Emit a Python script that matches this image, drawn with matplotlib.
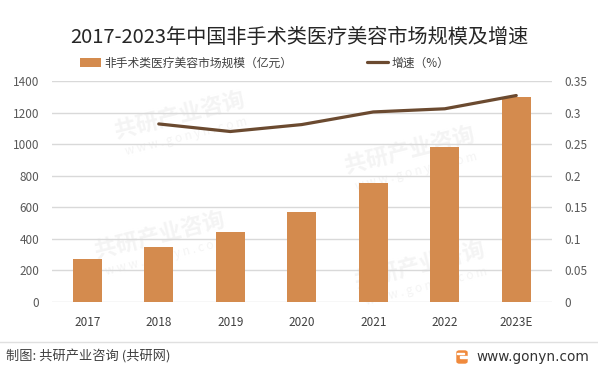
import matplotlib
matplotlib.use("Agg")
import matplotlib.pyplot as plt
from matplotlib.lines import Line2D
from matplotlib.patches import FancyBboxPatch, Rectangle

plt.rcParams["font.family"] = ["Noto Sans CJK SC", "DejaVu Sans"]

# data
years = ["2017", "2018", "2019", "2020", "2021", "2022", "2023E"]
market_size = [275, 350, 446, 573, 751, 981, 1300]
growth_years = ["2018", "2019", "2020", "2021", "2022", "2023E"]
growth_rate = [0.282, 0.270, 0.281, 0.301, 0.306, 0.327]

left_ticks = [0, 200, 400, 600, 800, 1000, 1200, 1400]
right_ticks = [0, 0.05, 0.1, 0.15, 0.2, 0.25, 0.3, 0.35]
right_labels = ["0", "0.05", "0.1", "0.15", "0.2", "0.25", "0.3", "0.35"]

bar_color = "#D48B4E"
line_color = "#6B4A30"
grid_color = "#D9D9D9"
tick_color = "#595959"

W, H = 598, 372
fig = plt.figure(figsize=(W / 100, H / 100), dpi=100)

# faint watermarks, behind everything
wm_spots = [(180, 115), (410, 150), (160, 235), (420, 265)]
for (px, py) in wm_spots:
    fig.text(px / W, 1 - py / H, "共研产业咨询", fontsize=16, fontweight="bold",
             color="#F4F4F4", rotation=14, ha="center", va="center", zorder=-2)
    fig.text(px / W + 0.01, 1 - (py + 22) / H, "w w w . g o n y n . c o m", fontsize=8.5,
             color="#F4F4F4", rotation=14, ha="center", va="center", zorder=-2)

ax = fig.add_axes([51.5 / W, 1 - 302 / H, 500.5 / W, 221 / H])
ax.patch.set_alpha(0)
x = list(range(len(years)))
bars = ax.bar(x, market_size, width=0.4, color=bar_color, zorder=3,
              label="非手术类医疗美容市场规模（亿元）")
ax.set_xlim(-0.5, len(years) - 0.5)
ax.set_ylim(0, 1400)
ax.set_yticks(left_ticks)
ax.set_xticks(x)
ax.set_xticklabels(years)
ax.yaxis.grid(True, color=grid_color, linewidth=1, zorder=0)
ax.set_axisbelow(True)
for s in ax.spines.values():
    s.set_visible(False)
ax.tick_params(axis="y", length=0, pad=9, labelsize=8.5, labelcolor=tick_color)
ax.tick_params(axis="x", length=0, pad=10, labelsize=8.5, labelcolor="#404040")

ax2 = ax.twinx()
gx = [years.index(y) for y in growth_years]
ln, = ax2.plot(gx, growth_rate, color=line_color, linewidth=2.3, zorder=4,
               solid_capstyle="round", label="增速（%）")
ax2.set_ylim(0, 0.35)
ax2.set_yticks(right_ticks)
ax2.set_yticklabels(right_labels)
for s in ax2.spines.values():
    s.set_visible(False)
ax2.tick_params(axis="y", length=0, pad=9, labelsize=8.5, labelcolor=tick_color)

fig.text(0.5, 1 - 37 / H, "2017-2023年中国非手术类医疗美容市场规模及增速",
         fontsize=14.5, color="#262626", ha="center", va="center")

fig.legend([bars, ln], [bars.get_label(), ln.get_label()], loc="center left",
           bbox_to_anchor=(74 / W, 1 - 63 / H), ncol=2, frameon=False,
           fontsize=8.5, handlelength=1.8, handletextpad=0.3, columnspacing=6.3,
           labelcolor="#404040", borderpad=0)

# footer
fig.add_artist(Line2D([0, 1], [1 - 341.5 / H, 1 - 341.5 / H], color="#E0E0E0", linewidth=1))
fig.text(6 / W, 1 - 357 / H, "制图: 共研产业咨询 (共研网)", fontsize=9.5,
         color="#404040", ha="left", va="center")
fig.text(589 / W, 1 - 357 / H, "www.gonyn.com", fontsize=9.8,
         color="#333333", ha="right", va="center", family="DejaVu Sans")
fig.add_artist(FancyBboxPatch((457 / W, 1 - 363 / H), 10 / W, 12 / H,
                              boxstyle="round,pad=0,rounding_size=0.004",
                              color="#F08A3C", transform=fig.transFigure))
fig.add_artist(Rectangle((460 / W, 1 - 358 / H), 7 / W, 2 / H, color="white",
                         transform=fig.transFigure))
fig.add_artist(Rectangle((457 / W, 1 - 354 / H), 7 / W, 1.5 / H, color="white",
                         transform=fig.transFigure))

fig.savefig("out.png", dpi=100)
